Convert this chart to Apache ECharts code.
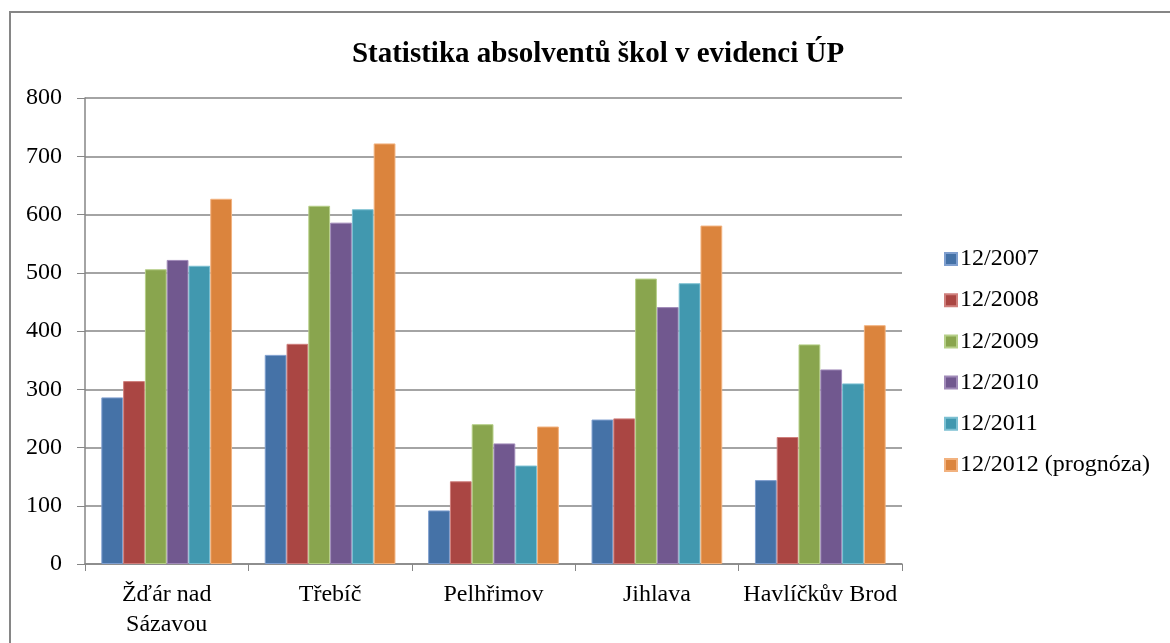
<!DOCTYPE html>
<html>
<head>
<meta charset="utf-8">
<script src="https://cdn.jsdelivr.net/npm/echarts@6/dist/echarts.min.js"></script>
<style>
html,body{margin:0;padding:0;background:#fff;}
#chart{width:1170px;height:643px;}
</style>
</head>
<body>
<div id="chart"></div>
<script>
var categories = ['Žďár nad\nSázavou', 'Třebíč', 'Pelhřimov', 'Jihlava', 'Havlíčkův Brod'];
var seriesNames = ['12/2007', '12/2008', '12/2009', '12/2010', '12/2011', '12/2012 (prognóza)'];
var s2007 = [286, 359, 92, 248, 144];
var s2008 = [314, 378, 142, 250, 218];
var s2009 = [506, 615, 240, 490, 377];
var s2010 = [522, 586, 207, 441, 334];
var s2011 = [512, 609, 169, 482, 310];
var s2012 = [627, 722, 236, 581, 410];
var yTicks = [0, 100, 200, 300, 400, 500, 600, 700, 800];
var colors = ['#4572A7', '#AA4643', '#89A54E', '#71588F', '#4198AF', '#DB843D'];
var borders = ['#7f9fcf', '#cf7f7c', '#b6cf88', '#a08ab8', '#7cc0d2', '#f2b27f'];

var allData = [s2007, s2008, s2009, s2010, s2011, s2012];
var font = '"Liberation Serif", "Times New Roman", serif';

var chart = echarts.init(document.getElementById('chart'), null, {renderer: 'canvas'});
chart.setOption({
  animation: false,
  backgroundColor: '#ffffff',
  title: {
    text: 'Statistika absolventů škol v evidenci ÚP',
    left: 593,
    textAlign: 'center',
    top: 35,
    textStyle: {fontFamily: font, fontSize: 29, fontWeight: 'bold', color: '#000'}
  },
  graphic: [{
    type: 'rect',
    shape: {x: 10, y: 12, width: 1200, height: 700},
    style: {fill: 'none', stroke: '#868686', lineWidth: 2},
    silent: true
  }],
  legend: {
    orient: 'vertical',
    left: 939,
    top: 242,
    itemWidth: 12,
    itemHeight: 12,
    itemGap: 17.2,
    icon: 'rect',
    data: seriesNames,
    textStyle: {fontFamily: font, fontSize: 24, color: '#000', lineHeight: 24, padding: [0, 0, 0, -2]}
  },
  grid: {left: 85, right: 268, top: 98, bottom: 79, containLabel: false},
  xAxis: {
    type: 'category',
    data: categories,
    axisLine: {lineStyle: {color: '#868686', width: 1.5}},
    axisTick: {show: true, length: 7, lineStyle: {color: '#868686'}},
    axisLabel: {fontFamily: font, fontSize: 24, color: '#000', margin: 16, lineHeight: 30, interval: 0}
  },
  yAxis: {
    type: 'value',
    min: yTicks[0],
    max: yTicks[yTicks.length - 1],
    interval: yTicks[1] - yTicks[0],
    axisLine: {show: true, lineStyle: {color: '#868686', width: 1.5}},
    axisTick: {show: true, length: 8, lineStyle: {color: '#868686'}},
    splitLine: {lineStyle: {color: '#868686', width: 1.5}},
    axisLabel: {fontFamily: font, fontSize: 24, color: '#000', margin: 23}
  },
  series: seriesNames.map(function (name, i) {
    return {
      name: name,
      type: 'bar',
      data: allData[i],
      barGap: '0%',
      barCategoryGap: '20%',
      itemStyle: {color: colors[i], borderColor: borders[i], borderWidth: 1}
    };
  })
});
</script>
</body>
</html>
